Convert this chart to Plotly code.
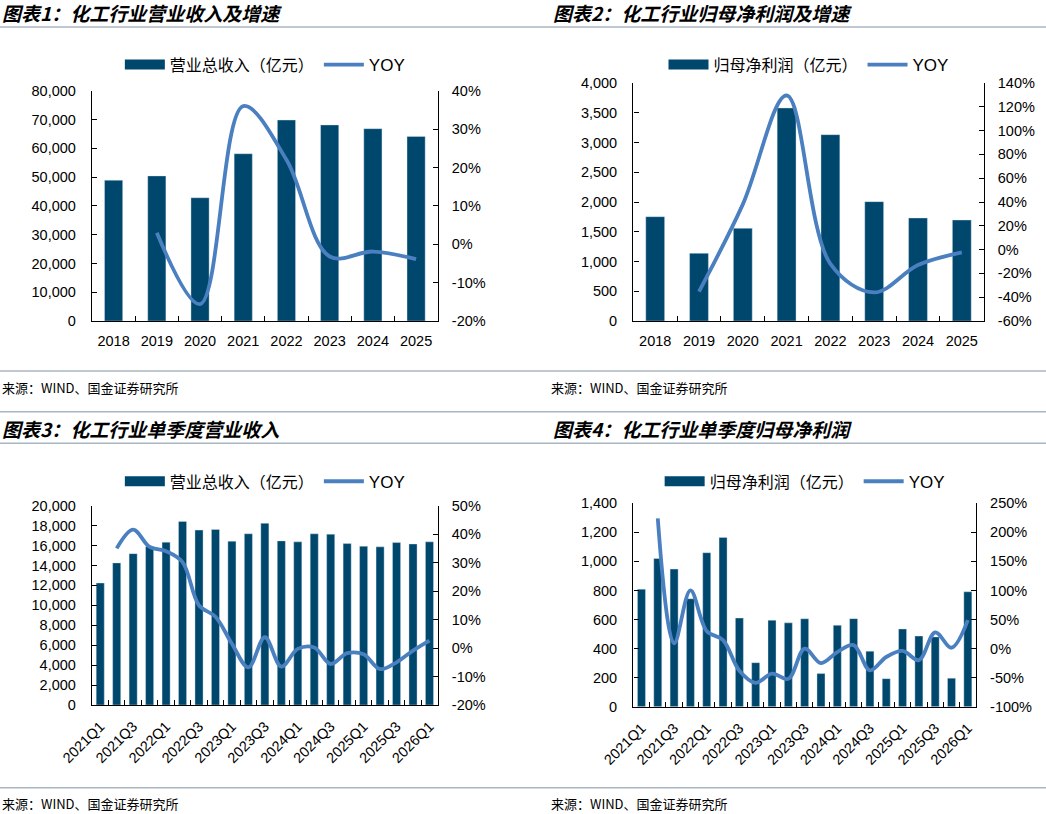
import plotly.graph_objects as go

# ---------------- data ----------------
years = ["2018", "2019", "2020", "2021", "2022", "2023", "2024", "2025"]
revenue_annual = [48900, 50400, 42800, 58100, 69800, 68100, 66800, 64100]
revenue_annual_yoy = [None, 3.0, -15.6, 36.0, 22.0, -3.2, -1.9, -3.9]
profit_annual = [1753, 1137, 1557, 3580, 3132, 2006, 1731, 1697]
profit_annual_yoy = [None, -35.3, 38.0, 129.5, -12.0, -36.0, -13.0, -2.3]

quarters = ["2021Q1", "2021Q2", "2021Q3", "2021Q4",
            "2022Q1", "2022Q2", "2022Q3", "2022Q4",
            "2023Q1", "2023Q2", "2023Q3", "2023Q4",
            "2024Q1", "2024Q2", "2024Q3", "2024Q4",
            "2025Q1", "2025Q2", "2025Q3", "2025Q4",
            "2026Q1"]
quarter_labels = ["2021Q1", "", "2021Q3", "", "2022Q1", "", "2022Q3", "",
                  "2023Q1", "", "2023Q3", "", "2024Q1", "", "2024Q3", "",
                  "2025Q1", "", "2025Q3", "", "2026Q1"]
revenue_q = [12240, 14260, 15190, 15900, 16340, 18420, 17550, 17610,
             16430, 17180, 18230, 16470, 16370, 17180, 17140, 16200,
             15930, 15870, 16300, 16160, 16370]
revenue_q_yoy = [None, 35.0, 41.6, 35.5, 34.0, 30.2, 15.0, 11.0,
                 1.5, -6.8, 3.8, -6.5, -0.3, 0.2, -5.6, -1.8,
                 -2.2, -7.4, -5.0, -0.9, 2.6]
profit_q = [809, 1020, 947, 743, 1060, 1165, 610, 303,
            595, 577, 605, 228, 560, 606, 382, 193,
            535, 486, 480, 196, 791]
profit_q_yoy = [None, 224, 9, 100, 30, 14.7, -38, -59,
                -43, -52, 0, -25, -6, 6, -37.5, -14.5,
                -4, -20, 28, 1.5, 49]

titles = ["图表1：化工行业营业收入及增速", "图表2：化工行业归母净利润及增速",
          "图表3：化工行业单季度营业收入", "图表4：化工行业单季度归母净利润"]
bar_names = ["营业总收入（亿元）", "归母净利润（亿元）", "营业总收入（亿元）", "归母净利润（亿元）"]
source_text = "来源：WIND、国金证券研究所"

# ---------------- style ----------------
W, H = 1046, 814
BAR = "#00476D"
LINE = "#4A7FC0"
SEP = "#A8B5C3"
LAT = "Liberation Sans, Arial, sans-serif"
CJK = "Noto Sans CJK SC, sans-serif"
TICKFONT = dict(family=LAT, size=14.5, color="#000000")


def px_x(v):
    return v / W


def px_y(v):
    return 1 - v / H


# plot areas in pixels: (left, right, top, bottom)
areas = [(92, 437.7, 90.7, 321), (633.3, 983.7, 83, 321),
         (92, 437.7, 505.7, 705), (633.3, 976, 503.3, 706.7)]
legend_y = [65, 65, 481.7, 481.7]

panels = [
    dict(cats=years, labels=years, bars=revenue_annual, yoy=revenue_annual_yoy,
         lrange=[0, 80000], ldtick=10000, rrange=[-20, 40], rdtick=10, bw=0.42, angle=0),
    dict(cats=years, labels=years, bars=profit_annual, yoy=profit_annual_yoy,
         lrange=[0, 4000], ldtick=500, rrange=[-60, 140], rdtick=20, bw=0.43, angle=0),
    dict(cats=quarters, labels=quarter_labels, bars=revenue_q, yoy=revenue_q_yoy,
         lrange=[0, 20000], ldtick=2000, rrange=[-20, 50], rdtick=10, bw=0.49, angle=-45),
    dict(cats=quarters, labels=quarter_labels, bars=profit_q, yoy=profit_q_yoy,
         lrange=[0, 1400], ldtick=200, rrange=[-100, 250], rdtick=50, bw=0.49, angle=-45),
]

fig = go.Figure()
layout = dict(template="none", width=W, height=H,
              margin=dict(l=0, r=0, t=0, b=0, pad=0, autoexpand=False),
              paper_bgcolor="white", plot_bgcolor="white", showlegend=True,
              shapes=[], annotations=[])

for i, p in enumerate(panels):
    n = i + 1
    xa = "x" if n == 1 else f"x{n}"
    yl_n = 2 * i + 1
    yr_n = 2 * i + 2
    yl = "y" if yl_n == 1 else f"y{yl_n}"
    yr = f"y{yr_n}"
    leg = "legend" if n == 1 else f"legend{n}"
    l, r, t, b = areas[i]

    fig.add_trace(go.Bar(x=p["cats"], y=p["bars"], xaxis=xa, yaxis=yl, width=p["bw"],
                         marker=dict(color=BAR, line=dict(color="#DCE6EE", width=0.4)),
                         showlegend=False, name=bar_names[i]))
    # legend-only entry drawn as a thick swatch, as in the reference
    fig.add_trace(go.Scatter(x=[None], y=[None], xaxis=xa, yaxis=yl, mode="lines",
                             line=dict(color=BAR, width=10), legend=leg,
                             name=f'<span style="font-family:{CJK};font-size:16px">{bar_names[i]}</span>'))
    fig.add_trace(go.Scatter(x=p["cats"], y=p["yoy"], xaxis=xa, yaxis=yr, mode="lines",
                             line=dict(color=LINE, width=3.8, shape="spline", smoothing=1.0),
                             connectgaps=False, legend=leg, name="YOY"))

    xkey = "xaxis" if n == 1 else f"xaxis{n}"
    ylkey = "yaxis" if yl_n == 1 else f"yaxis{yl_n}"
    yrkey = f"yaxis{yr_n}"
    common = dict(automargin=False, ticks="inside", ticklen=5, tickwidth=1.2, tickcolor="#000",
                  showline=True, linecolor="#000", linewidth=1.4, showgrid=False,
                  zeroline=False, tickfont=TICKFONT, fixedrange=True)
    rvals = list(range(p["rrange"][0], p["rrange"][1] + 1, p["rdtick"]))
    layout[xkey] = dict(domain=[px_x(l), px_x(r)], anchor=yl, type="category",
                        tickmode="array", tickvals=p["cats"], ticktext=p["labels"],
                        tickson="boundaries", tickangle=p["angle"],
                        ticklabelstandoff=6, range=[-0.5, len(p["cats"]) - 0.5], **common)
    layout[ylkey] = dict(domain=[px_y(b), px_y(t)], anchor=xa, range=p["lrange"],
                         dtick=p["ldtick"], tick0=0, tickformat=",.0f",
                         ticklabelstandoff=12, **common)
    layout[yrkey] = dict(overlaying=yl, side="right", anchor=xa, range=p["rrange"],
                         tickmode="array", tickvals=rvals, ticktext=[f"{v}%" for v in rvals],
                         ticklabelstandoff=10, **common)
    layout[leg] = dict(orientation="h", x=(px_x(l) + px_x(r)) / 2, xanchor="center",
                       y=px_y(legend_y[i]), yanchor="middle", bgcolor="rgba(0,0,0,0)",
                       font=dict(family=LAT, size=17, color="#000"), itemwidth=40,
                       traceorder="normal")

    # titles and sources
    tx = 0 if i % 2 == 0 else 551
    ty = 12 if i < 2 else 428
    sy = 387 if i < 2 else 803
    sx = 0 if i % 2 == 0 else 549
    layout["annotations"].append(dict(
        text=f'<b><i style="font-style:oblique">{titles[i]}</i></b>', x=px_x(tx), y=px_y(ty),
        xref="paper", yref="paper", xanchor="left", yanchor="middle", showarrow=False,
        font=dict(family=CJK, size=19, color="#000")))
    layout["annotations"].append(dict(
        text=source_text, x=px_x(sx), y=px_y(sy), xref="paper", yref="paper",
        xanchor="left", yanchor="middle", showarrow=False,
        font=dict(family=CJK, size=13, color="#000")))

for yy in [27, 371, 411.7, 443.3, 787.7]:
    layout["shapes"].append(dict(type="line", xref="paper", yref="paper", x0=0, x1=1,
                                 y0=px_y(yy), y1=px_y(yy), line=dict(color=SEP, width=1.6)))

fig.update_layout(**layout)
fig.write_html("out.html", config={"displayModeBar": False},
               post_script="document.body.style.margin='0';document.body.style.overflow='hidden';")
